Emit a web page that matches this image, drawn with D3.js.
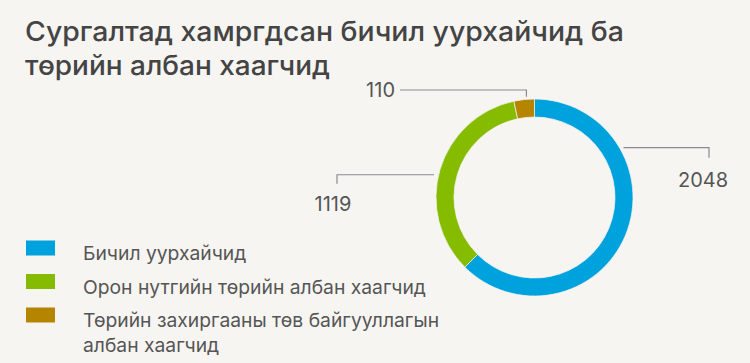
<!DOCTYPE html>
<html>
<head>
<meta charset="utf-8">
<script src="https://cdn.jsdelivr.net/npm/d3@7"></script>
<style>
  html, body { margin: 0; padding: 0; background: #f6f5f2; }
  svg { display: block; }
</style>
</head>
<body>
<script>
// data
var categories = [
  'Бичил уурхайчид',
  'Орон нутгийн төрийн албан хаагчид',
  'Төрийн захиргааны төв байгууллагын албан хаагчид'
];
var values = [2048, 1119, 110];
var colors = ['#00a2de', '#86bc00', '#b58500'];
var titleLines = ['Сургалтад хамргдсан бичил уурхайчид ба', 'төрийн албан хаагчид'];
// legend labels broken into lines as in the picture
var legendLines = [
  ['Бичил уурхайчид'],
  ['Орон нутгийн төрийн албан хаагчид'],
  ['Төрийн захиргааны төв байгууллагын', 'албан хаагчид']
];

var width = 750;
var height = 363;
var cx = 534.5, cy = 197.5;
var outerR = 98.5, innerR = 80.5;

var svg = d3.select('body')
  .append('svg')
  .attr('width', width)
  .attr('height', height)
  .style('background', '#f6f5f2');

// title
var titleWidths = [599, 305];
svg.selectAll('.title')
  .data(titleLines)
  .enter()
  .append('text')
    .attr('class', 'title')
    .attr('x', 25)
    .attr('y', function (d, i) { return 41 + i * 34; })
    .attr('textLength', function (d, i) { return titleWidths[i]; })
    .attr('lengthAdjust', 'spacingAndGlyphs')
    .style('font-family', 'Inter, sans-serif')
    .style('font-weight', 500)
    .style('font-size', '27.5px')
    .style('fill', '#444')
    .text(function (d) { return d; });

// donut
var pie = d3.pie().sort(null).value(function (d) { return d; });
var arcs = pie(values);
var arc = d3.arc().innerRadius(innerR).outerRadius(outerR);

var g = svg.append('g')
  .attr('transform', 'translate(' + cx + ',' + cy + ')');

g.selectAll('path.slice')
  .data(arcs)
  .enter()
  .append('path')
    .attr('class', 'slice')
    .attr('d', arc)
    .attr('fill', function (d, i) { return colors[i]; })
    .attr('stroke', '#f6f5f2')
    .attr('stroke-width', 0.7);

// leader lines: where on the slice they start, and where they bend (relative to centre)
var leaders = [
  {at: 0.27, r: 102, kind: 'hv', bendX: 174.5, drop: 10, tx: 168.5, ty: 186.5 - cy, anchor: 'middle'},
  {at: 0.47, r: 103, kind: 'hv', bendX: -197.5, drop: 9, tx: -201.5, ty: 210.5 - cy, anchor: 'middle'},
  {at: 0.62, r: 101, kind: 'vh', levelY: -107.5, endX: -134.5, tx: -139.5, ty: -100.5, anchor: 'end'}
];

function anchorPoint(d, L) {
  var a = d.startAngle + (d.endAngle - d.startAngle) * L.at;
  return [Math.sin(a) * L.r, -Math.cos(a) * L.r];
}

g.selectAll('path.leader')
  .data(arcs)
  .enter()
  .append('path')
    .attr('class', 'leader')
    .attr('fill', 'none')
    .attr('stroke', '#8a8a8a')
    .attr('stroke-width', 1.2)
    .attr('d', function (d, i) {
      var L = leaders[i];
      var p = anchorPoint(d, L);
      if (L.kind === 'hv') {
        return 'M' + p[0] + ',' + p[1] + 'H' + L.bendX + 'V' + (p[1] + L.drop);
      }
      return 'M' + p[0] + ',' + p[1] + 'V' + L.levelY + 'H' + L.endX;
    });

g.selectAll('text.value')
  .data(arcs)
  .enter()
  .append('text')
    .attr('class', 'value')
    .attr('x', function (d, i) { return leaders[i].tx; })
    .attr('y', function (d, i) { return leaders[i].ty; })
    .attr('text-anchor', function (d, i) { return leaders[i].anchor; })
    .style('font-family', 'Inter, sans-serif')
    .style('font-size', '20px')
    .style('fill', '#555')
    .text(function (d) { return d.data; });

// legend
var legend = svg.selectAll('.legend')
  .data(categories)
  .enter()
  .append('g')
    .attr('class', 'legend')
    .attr('transform', function (d, i) { return 'translate(26,' + (240.5 + i * 33.5) + ')'; });

legend.append('rect')
  .attr('width', 29)
  .attr('height', 15)
  .attr('fill', function (d, i) { return colors[i]; });

legend.append('text')
  .attr('x', 57)
  .attr('y', 19.5)
  .style('font-family', 'Inter, sans-serif')
  .style('font-size', '19.3px')
  .style('fill', '#555')
  .selectAll('tspan')
  .data(function (d, i) { return legendLines[i]; })
  .enter()
  .append('tspan')
    .attr('x', 57)
    .attr('dy', function (d, j) { return j === 0 ? 0 : 25; })
    .text(function (d) { return d; });
</script>
</body>
</html>
